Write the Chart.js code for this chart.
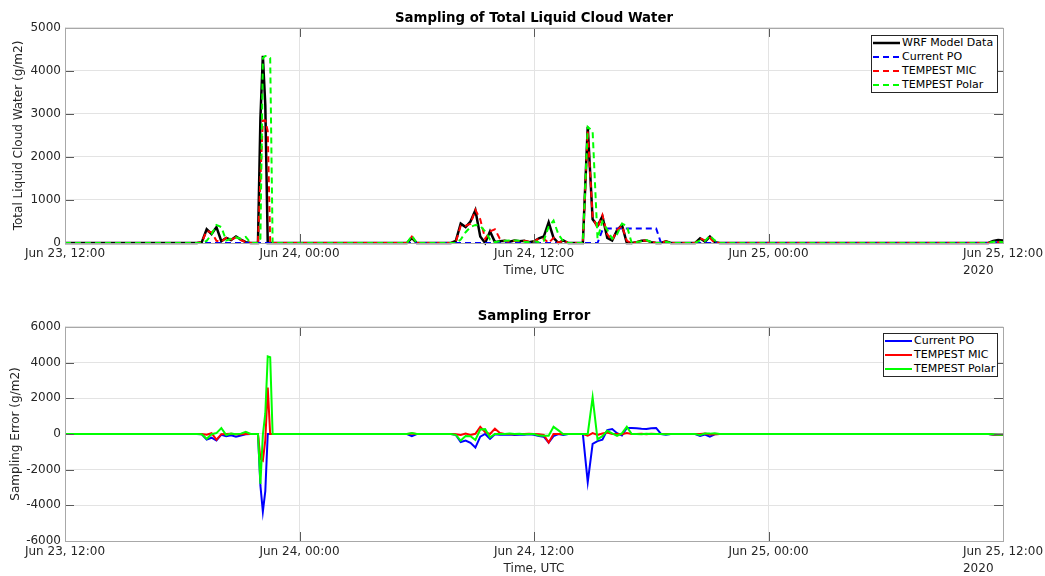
<!DOCTYPE html>
<html>
<head>
<meta charset="utf-8">
<script src="https://cdn.jsdelivr.net/npm/chart.js@4.4.1/dist/chart.umd.min.js"></script>
<style>
  body { margin: 0; background: #fff; }
  .panel { position: absolute; left: 0; width: 1045px; height: 288px; }
  .legend { position: absolute; background: #fff; border: 1px solid #262626; font: 11px "DejaVu Sans", sans-serif; color: #000; }
  .legend div { height: 13.9px; display: flex; align-items: center; white-space: nowrap; }
  .legend svg { flex: none; }
  .legend span { margin-left: 2px; }
</style>
</head>
<body>
<div class="panel" style="top:0"><canvas id="cloudChart" width="1045" height="288"></canvas></div>
<div class="panel" style="top:288px"><canvas id="errorChart" width="1045" height="288"></canvas></div>
<div class="legend" id="cloudLegend" style="left:871px;top:35px;width:125px"></div>
<div class="legend" id="errorLegend" style="left:883px;top:333px;width:113px"></div>
<script>
// hours after Jun 23 12:00 UTC
var hours = [0,
  6.5, 6.75, 7, 7.25, 7.5, 7.75, 8, 8.25, 8.5, 8.75, 9, 9.25, 9.5, 9.75, 9.875, 10, 10.125, 10.25, 10.375, 10.5, 10.625, 10.75, 11,
  17.25, 17.5, 17.75, 18,
  19.5, 19.75, 20, 20.25, 20.5, 20.75, 21, 21.25, 21.5, 21.75,
  22, 22.25, 22.5, 22.75, 23, 23.25, 23.5, 23.75, 24, 24.25,
  24.5, 24.75, 25, 25.25, 25.5, 25.75, 26, 26.25, 26.5, 26.75,
  27, 27.25, 27.5, 27.75, 28, 28.25, 28.5, 28.75, 29, 29.25,
  29.5, 29.75, 30, 30.25, 30.5, 30.75, 31, 31.25, 31.5, 31.75,
  32, 32.25, 32.5, 32.75, 33, 33.25, 33.5, 33.75, 34, 34.25,
  34.5,
  47, 47.25, 47.5, 47.75, 48];

var tickHours = [0, 12, 24, 36, 48];
var tickLabels = ['Jun 23, 12:00', 'Jun 24, 00:00', 'Jun 24, 12:00', 'Jun 25, 00:00', 'Jun 25, 12:00'];
var yearLabel = '2020';

var wrf = [0,
  0, 0, 20, 320, 210, 370, 40, 120, 70, 150, 80, 20, 0, 0, 0, 2900, 4350, 3200, 0, 0, 0, 0, 0,
  0, 0, 120, 0,
  0, 0, 50, 450, 370, 500, 760, 150, 0, 270,
  20, 40, 50, 30, 60, 40, 50, 20, 40, 110,
  150, 480, 120, 0, 60, 0, 0, 0, 0, 2700,
  550, 400, 620, 120, 60, 300, 420, 0, 0, 20,
  50, 60, 20, 0, 0, 40, 0, 0, 0, 0,
  0, 0, 110, 30, 150, 20, 0, 0, 0, 0,
  0,
  0, 0, 50, 70, 60];

var currentPO = [0,
  0, 0, 0, 0, 0, 0, 0, 0, 0, 0, 0, 0, 0, 0, 0, 0, 0, 0, 0, 0, 0, 0, 0,
  0, 0, 0, 0,
  0, 0, 0, 0, 0, 0, 0, 0, 0, 0,
  0, 0, 0, 0, 0, 0, 0, 0, 0, 0,
  0, 0, 0, 0, 0, 0, 0, 0, 0, 0,
  0, 0, 300, 340, 340, 340, 340, 340, 340, 340,
  340, 340, 340, 340, 0, 0, 0, 0, 0, 0,
  0, 0, 0, 0, 0, 0, 0, 0, 0, 0,
  0,
  0, 0, 0, 20, 20];

var tempestMIC = [0,
  0, 0, 20, 280, 250, 50, 30, 120, 80, 130, 70, 20, 0, 0, 0, 1500, 2850, 2850, 2600, 0, 0, 0, 0,
  0, 0, 150, 0,
  0, 0, 30, 400, 400, 450, 770, 550, 100, 270,
  320, 100, 50, 30, 50, 40, 50, 30, 40, 100,
  100, 0, 120, 0, 60, 0, 0, 0, 0, 2600,
  600, 350, 650, 200, 60, 300, 400, 50, 0, 20,
  60, 50, 30, 0, 0, 40, 0, 0, 0, 0,
  0, 0, 110, 60, 120, 0, 0, 0, 0, 0,
  0,
  0, 0, 20, 20, 20];

var tempestPolar = [0,
  0, 0, 0, 50, 200, 420, 370, 60, 100, 130, 100, 140, 0, 0, 0, 100, 4300, 4350, 4350, 4300, 0, 0, 0,
  0, 0, 170, 0,
  0, 0, 0, 80, 250, 370, 420, 400, 270, 80,
  20, 40, 50, 60, 60, 50, 30, 20, 40, 20,
  50, 380, 520, 200, 40, 0, 0, 0, 0, 2700,
  2600, 100, 500, 300, 100, 200, 450, 400, 0, 20,
  40, 70, 20, 0, 0, 30, 0, 0, 0, 0,
  0, 0, 60, 50, 170, 60, 0, 0, 0, 0,
  0,
  0, 0, 30, 30, 20];

var errPO = [0,
  0, 0, -20, -320, -210, -370, -40, -120, -70, -150, -80, -20, 0, 0, 0, -2900, -4350, -3200, 0, 0, 0, 0, 0,
  0, 0, -120, 0,
  0, 0, -50, -450, -370, -500, -760, -150, 0, -270,
  -20, -40, -50, -30, -60, -40, -50, -20, -40, -110,
  -150, -480, -120, 0, -60, 0, 0, 0, 0, -2700,
  -550, -400, -320, 220, 280, 40, -80, 340, 340, 320,
  290, 280, 320, 340, 0, -40, 0, 0, 0, 0,
  0, 0, -110, -30, -150, -20, 0, 0, 0, 0,
  0,
  0, 0, -50, -50, -40];

var errMIC = [0,
  0, 0, 0, -40, 40, -320, -10, 0, 10, -20, -10, 0, 0, 0, 0, -1400, -1500, -350, 2600, 0, 0, 0, 0,
  0, 0, 30, 0,
  0, 0, -20, -50, 30, -50, 10, 400, 100, 0,
  300, 60, 0, 0, -10, 0, 0, 10, 0, -10,
  -50, -480, 0, 0, 0, 0, 0, 0, 0, -100,
  50, -50, 30, 80, 0, 0, -20, 50, 0, 0,
  10, -10, 10, 0, 0, 0, 0, 0, 0, 0,
  0, 0, 0, 30, -30, -20, 0, 0, 0, 0,
  0,
  0, 0, -30, -50, -40];

var errPolar = [0,
  0, 0, -20, -270, -10, 50, 330, -60, 30, -20, 20, 120, 0, 0, 0, -2800, -50, 1150, 4350, 4300, 0, 0, 0,
  0, 0, 50, 0,
  0, 0, -50, -370, -120, -130, -340, 250, 270, -190,
  0, 0, 0, 30, 0, 10, -20, 0, 0, -90,
  -100, -100, 400, 200, -20, 0, 0, 0, 0, 0,
  2050, -300, -120, 180, 40, -100, 30, 400, 0, 0,
  -10, 10, 0, 0, 0, -10, 0, 0, 0, 0,
  0, 0, -50, 20, 20, 40, 0, 0, 0, 0,
  0,
  0, 0, -20, -40, -40];

var textColor = '#262626';
var gridColor = '#e3e3e3';
var frameColor = '#a8a8a8';
var tickMarkColor = '#5a5a5a';
var tickFont = { family: '"DejaVu Sans", sans-serif', size: 12 };

Chart.defaults.font.family = '"DejaVu Sans", sans-serif';

function points(values) {
  return values.map(function (v, i) { return { x: hours[i], y: v }; });
}

function line(label, values, color, width, dashed, order) {
  return {
    label: label,
    data: points(values),
    borderColor: color,
    backgroundColor: color,
    borderWidth: width,
    borderDash: dashed ? [6, 4] : [],
    pointRadius: 0,
    tension: 0,
    fill: false,
    clip: 4,
    order: order
  };
}

function makeScales(yMin, yMax, yStep, yTitle, yTitlePad, xHeight) {
  return {
    x: {
      type: 'linear', min: 0, max: 48,
      grid: { color: gridColor, drawTicks: false },
      border: { display: false },
      ticks: {
        stepSize: 12, autoSkip: false, maxRotation: 0, padding: 4,
        color: textColor, font: tickFont,
        callback: function (v) {
          var i = tickHours.indexOf(v);
          return i < 0 ? '' : tickLabels[i];
        }
      },
      title: { display: true, text: 'Time, UTC', color: textColor, font: tickFont, padding: 0 },
      afterFit: function (s) { s.height = xHeight; s.paddingLeft = 0; s.paddingRight = 0; }
    },
    y: {
      min: yMin, max: yMax,
      grid: { color: gridColor, drawTicks: false },
      border: { display: false },
      ticks: {
        stepSize: yStep, padding: 4, color: textColor, font: tickFont,
        callback: function (v) { return String(v); }
      },
      title: { display: true, text: yTitle, color: textColor, font: tickFont, padding: { top: yTitlePad, bottom: 0 } },
      afterFit: function (s) { s.width = 65; }
    }
  };
}

// axes box, inward tick marks, title centred on the plot area, year under the last date
var boxPlugin = {
  id: 'box',
  beforeDraw: function (chart) {
    var t = chart.titleBlock;
    if (t) {
      t.left = chart.chartArea.left;
      t.right = chart.chartArea.right;
    }
  },
  afterDraw: function (chart) {
    var a = chart.chartArea, ctx = chart.ctx;
    var xs = chart.scales.x, ys = chart.scales.y;
    ctx.save();
    ctx.lineWidth = 1;
    ctx.strokeStyle = tickMarkColor;
    ctx.beginPath();
    xs.ticks.forEach(function (t) {
      var px = Math.round(xs.getPixelForValue(t.value)) + 0.5;
      ctx.moveTo(px, a.bottom); ctx.lineTo(px, a.bottom - 9);
      ctx.moveTo(px, a.top); ctx.lineTo(px, a.top + 9);
    });
    ys.ticks.forEach(function (t) {
      var py = Math.round(ys.getPixelForValue(t.value)) + 0.5;
      ctx.moveTo(a.left, py); ctx.lineTo(a.left + 9, py);
      ctx.moveTo(a.right, py); ctx.lineTo(a.right - 9, py);
    });
    ctx.stroke();
    ctx.strokeStyle = frameColor;
    ctx.strokeRect(Math.round(a.left) + 0.5, Math.round(a.top) + 0.5,
      Math.round(a.right - a.left), Math.round(a.bottom - a.top));
    ctx.fillStyle = textColor;
    ctx.font = '12px "DejaVu Sans", sans-serif';
    ctx.textAlign = 'left';
    ctx.textBaseline = 'middle';
    var lastX = xs.getPixelForValue(tickHours[tickHours.length - 1]);
    var w = ctx.measureText(tickLabels[tickLabels.length - 1]).width;
    ctx.fillText(yearLabel, lastX - w / 2, xs.bottom - 7.2);
    ctx.restore();
  }
};

var cloudSets = [
  line('WRF Model Data', wrf, '#000000', 2.5, false, 4),
  line('Current PO', currentPO, '#0000ff', 2, true, 3),
  line('TEMPEST MIC', tempestMIC, '#ff0000', 2, true, 2),
  line('TEMPEST Polar', tempestPolar, '#00ff00', 2, true, 1)
];

var errorSets = [
  line('Current PO', errPO, '#0000ff', 2, false, 3),
  line('TEMPEST MIC', errMIC, '#ff0000', 2, false, 2),
  line('TEMPEST Polar', errPolar, '#00ff00', 2, false, 1)
];

var cloudChart = new Chart(document.getElementById('cloudChart'), {
  type: 'line',
  data: { datasets: cloudSets },
  options: {
    responsive: false,
    animation: false,
    layout: { padding: { left: 0, right: 42, top: 0, bottom: 10 } },
    plugins: {
      legend: { display: false },
      tooltip: { enabled: false },
      title: {
        display: true, text: 'Sampling of Total Liquid Cloud Water', color: '#000',
        font: { size: 13.3, weight: 'bold' }, padding: { top: 11, bottom: 1 }
      }
    },
    scales: makeScales(0, 5000, 1000, 'Total Liquid Cloud Water (g/m2)', 12, 35)
  },
  plugins: [boxPlugin]
});

var errorChart = new Chart(document.getElementById('errorChart'), {
  type: 'line',
  data: { datasets: errorSets },
  options: {
    responsive: false,
    animation: false,
    layout: { padding: { left: 0, right: 42, top: 0, bottom: 0 } },
    plugins: {
      legend: { display: false },
      tooltip: { enabled: false },
      title: {
        display: true, text: 'Sampling Error', color: '#000',
        font: { size: 13.3, weight: 'bold' }, padding: { top: 21, bottom: 2 }
      }
    },
    scales: makeScales(-6000, 6000, 2000, 'Sampling Error (g/m2)', 9, 35)
  },
  plugins: [boxPlugin]
});

function buildLegend(id, sets) {
  var box = document.getElementById(id);
  sets.forEach(function (ds) {
    var row = document.createElement('div');
    var dash = ds.borderDash.length ? ' stroke-dasharray="' + ds.borderDash.join(' ') + '"' : '';
    row.innerHTML = '<svg width="28" height="14"><line x1="1" y1="7" x2="28" y2="7" stroke="' + ds.borderColor +
      '" stroke-width="' + ds.borderWidth + '"' + dash + '/></svg><span></span>';
    row.querySelector('span').textContent = ds.label;
    box.appendChild(row);
  });
}
buildLegend('cloudLegend', cloudSets);
buildLegend('errorLegend', errorSets);
</script>
</body>
</html>
